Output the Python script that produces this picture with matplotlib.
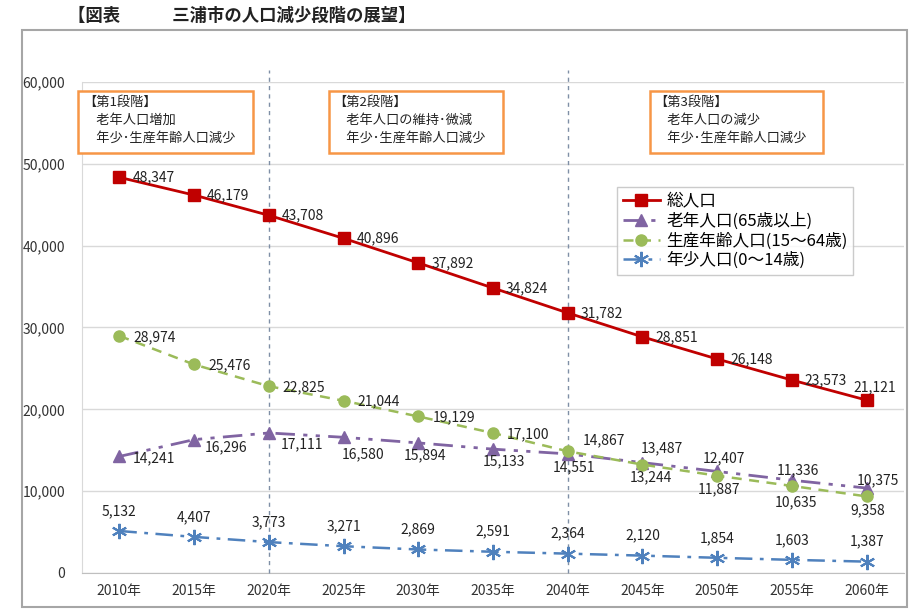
import matplotlib
matplotlib.use("Agg")
import matplotlib.pyplot as plt
from matplotlib.patches import Rectangle
from matplotlib.ticker import FuncFormatter

plt.rcParams["font.family"] = ["Noto Sans CJK JP", "DejaVu Sans"]

# ------------------------------------------------------------------
# data
# ------------------------------------------------------------------
years = ["2010年", "2015年", "2020年", "2025年", "2030年", "2035年",
         "2040年", "2045年", "2050年", "2055年", "2060年"]
total = [48347, 46179, 43708, 40896, 37892, 34824, 31782, 28851, 26148, 23573, 21121]
elderly = [14241, 16296, 17111, 16580, 15894, 15133, 14551, 13487, 12407, 11336, 10375]
working = [28974, 25476, 22825, 21044, 19129, 17100, 14867, 13244, 11887, 10635, 9358]
children = [5132, 4407, 3773, 3271, 2869, 2591, 2364, 2120, 1854, 1603, 1387]

series_names = ["総人口", "老年人口(65歳以上)", "生産年齢人口(15～64歳)", "年少人口(0～14歳)"]

stage_texts = [
    "【第1段階】\n　老年人口増加\n　年少･生産年齢人口減少",
    "【第2段階】\n　老年人口の維持･微減\n　年少･生産年齢人口減少",
    "【第3段階】\n　老年人口の減少\n　年少･生産年齢人口減少",
]
stage_boundaries = [2, 6]  # index of 2020 and 2040

title = "【図表　　　三浦市の人口減少段階の展望】"

# ------------------------------------------------------------------
# figure
# ------------------------------------------------------------------
fig = plt.figure(figsize=(9.19, 6.10), dpi=100)
ax = fig.add_axes([0.0892, 0.0607, 0.8945, 0.8049])

x = list(range(len(years)))

ax.plot(x, total, color="#C00000", lw=2, marker="s", ms=8, zorder=5)
ax.plot(x, elderly, color="#8064A2", lw=2, marker="^", ms=9,
        dashes=(7, 3, 1.5, 3, 1.5, 3), zorder=4)
ax.plot(x, working, color="#9BBB59", lw=1.8, marker="o", ms=8,
        dashes=(4, 3), zorder=4)
ax.plot(x, children, color="#4F81BD", lw=1.8, marker=(6, 2, 0), ms=11,
        mew=1.5, dashes=(7, 3, 1.5, 3), zorder=4)

ax.set_xlim(-0.5, len(years) - 0.5)
ax.set_ylim(0, 60000)
ax.set_yticks(range(0, 60001, 10000))
ax.yaxis.set_major_formatter(FuncFormatter(lambda v, p: f"{int(v):,}"))
ax.set_xticks(x)
ax.set_xticklabels(years)
ax.tick_params(axis="both", length=0, labelsize=10, colors="#333333")
ax.tick_params(axis="x", pad=8)
ax.tick_params(axis="y", pad=12)
ax.grid(axis="y", color="#D9D9D9", lw=1)
ax.set_axisbelow(True)
for side in ["top", "right"]:
    ax.spines[side].set_visible(False)
ax.spines["left"].set_color("#D9D9D9")
ax.spines["bottom"].set_color("#BFBFBF")

# stage dividers
for b in stage_boundaries:
    ax.plot([b, b], [0, 61500], color="#7F8FA6", lw=1, ls=(0, (3, 3)),
            clip_on=False, zorder=3)

# stage boxes
box_x = [(-0.55, 1.79), (2.80, 5.13), (7.10, 9.41)]
for (x0, x1), txt in zip(box_x, stage_texts):
    ax.add_patch(Rectangle((x0, 51300), x1 - x0, 7600, fill=True, fc="white",
                           ec="#F79646", lw=1.8, clip_on=False, zorder=6))
    ax.text(x0 + 0.06, 58300, txt, fontsize=9.5, va="top", ha="left",
            linespacing=1.5, color="#222222", zorder=7)


# data labels, offsets in pixels: (dx, dy, ha)
def put_labels(values, offsets):
    for i, (v, (dx, dy, ha)) in enumerate(zip(values, offsets)):
        ax.annotate(f"{v:,}", (i, v), xytext=(dx, dy),
                    textcoords="offset pixels", ha=ha, va="center",
                    fontsize=10, color="#222222", zorder=8)


total_off = [(13, 0, "left")] * 10 + [(8, 13, "center")]
elderly_off = [(13, -2, "left"), (11, -8, "left"), (12, -11, "left"),
               (20, -17, "center"), (7, -12, "center"), (11, -12, "center"),
               (6, -13, "center"), (19, 14, "center"), (7, 13, "center"),
               (6, 10, "center"), (11, 8, "center")]
working_off = [(14, -1, "left")] * 6 + [
    (15, 11, "left"), (8, -13, "center"), (2, -14, "center"),
    (4, -16, "center"), (1, -14, "center")]
children_off = [(0, 20, "center")] * 11

put_labels(total, total_off)
put_labels(elderly, elderly_off)
put_labels(working, working_off)
put_labels(children, children_off)

# legend
handles = ax.get_lines()[:4]
leg = fig.legend(handles, series_names, loc="upper left",
                 bbox_to_anchor=(617 / 919, 1 - 187 / 610), fontsize=12,
                 frameon=True, fancybox=False, edgecolor="#BFBFBF",
                 handlelength=2.2, labelspacing=0.15, borderpad=0.35,
                 handletextpad=0.4, borderaxespad=0)
leg.get_frame().set_linewidth(1)

# outer frame and title
fig.patches.append(Rectangle((22 / 919, 1 - 607 / 610), 885 / 919, 577 / 610,
                             transform=fig.transFigure, fill=False,
                             ec="#A6A6A6", lw=1.5))
fig.text(68 / 919, 1 - 16 / 610, title, fontsize=12.5, fontweight="bold",
         va="center", ha="left", color="#222222")

fig.savefig("out.png", dpi=100, facecolor="white")
